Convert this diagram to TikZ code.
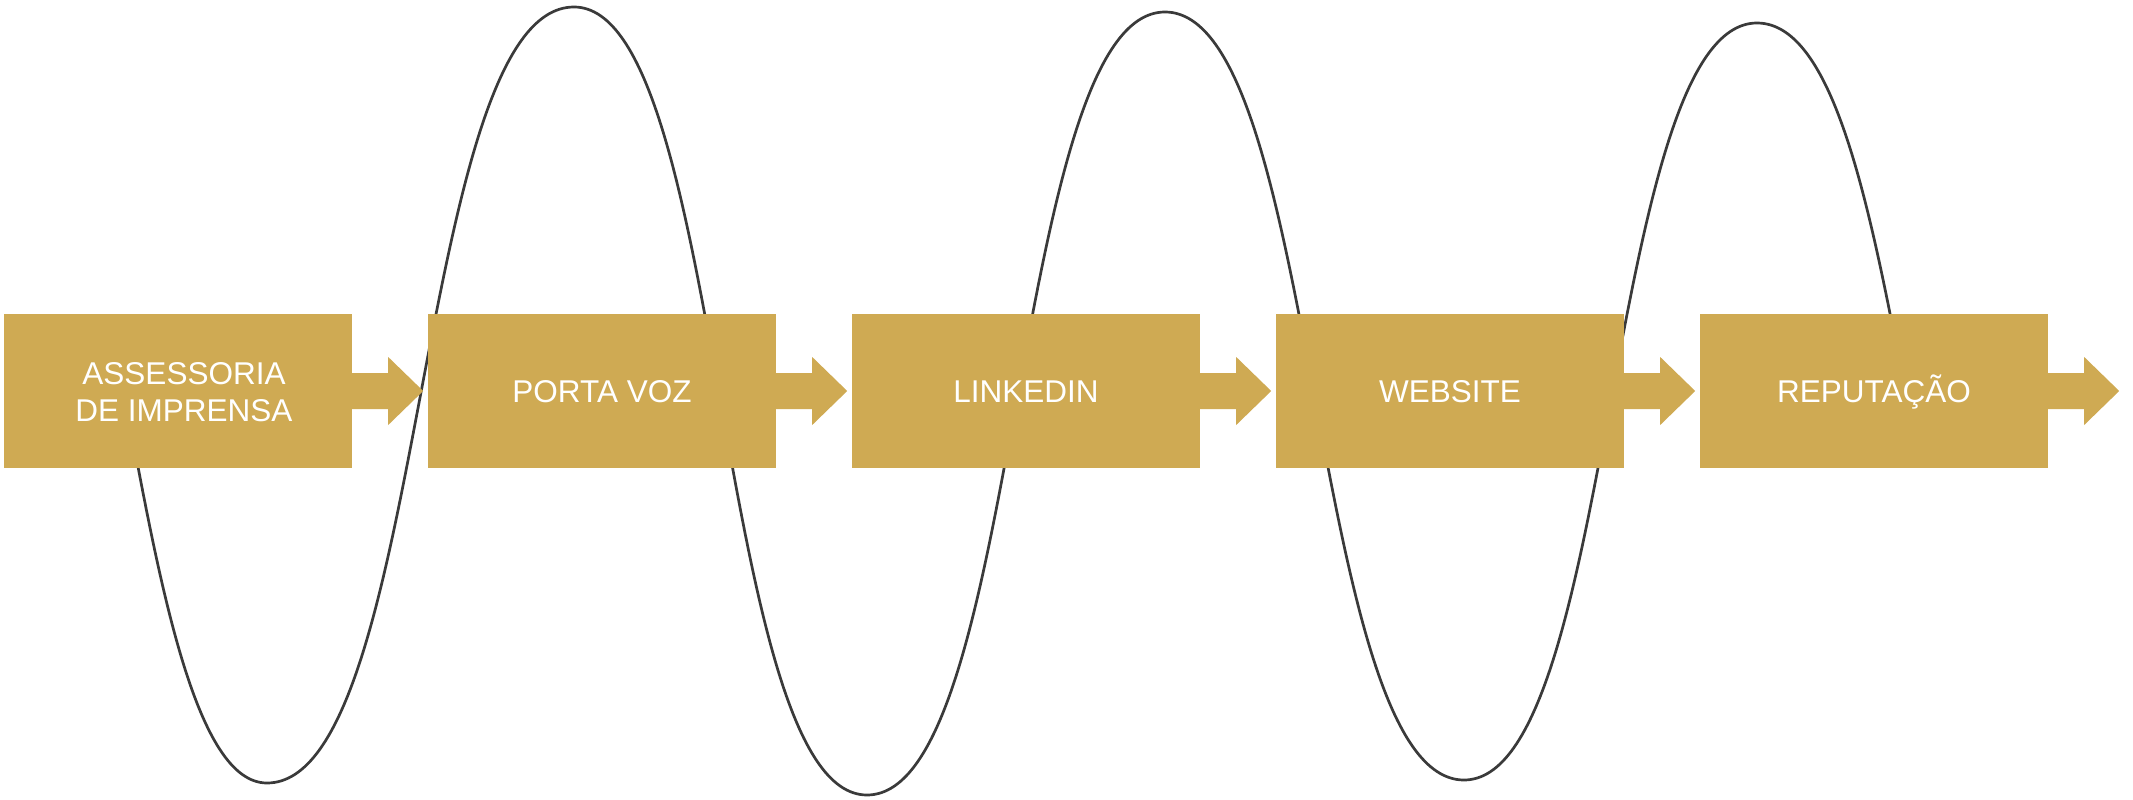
\documentclass[tikz,border=0pt]{standalone}
\usepackage{fontspec}
\setmainfont{Liberation Sans}
\definecolor{gold}{RGB}{207,170,83}
\definecolor{curvegray}{RGB}{58,58,58}
\newcommand{\blockarrow}[1]{%
  \fill[flow] (#1.east) ++(-1,-18) -- ++(37,0) -- ++(0,-16) -- ++(35,34)
    -- ++(-35,34) -- ++(0,-16) -- ++(-37,0) -- cycle;}
\begin{document}
\begin{tikzpicture}[x=1pt,y=-1pt,
  stepbox/.style={rectangle, fill=gold, minimum width=348pt, minimum height=154pt,
    inner sep=0pt, text=white, font=\fontsize{31.5}{37}\selectfont, align=center},
  steplabel/.style={inner sep=0pt, text=white, font=\fontsize{31.5}{37}\selectfont, align=center},
  oneline/.style={text height=23pt, text depth=0pt},
  flow/.style={fill=gold},
  wave/.style={draw=curvegray, line width=2.7pt, line join=round}]
\useasboundingbox (0,0) rectangle (2133,800);
% wavy line running behind the steps
\draw[wave] (124,391.5) .. controls (160,587) and (196,783) .. (267,783)
  .. controls (427,783) and (414,7) .. (574,7)
  .. controls (726,7) and (715,795) .. (867,795)
  .. controls (1022,795) and (1010,12) .. (1165,12)
  .. controls (1320,12) and (1309,780) .. (1464,780)
  .. controls (1616,780) and (1605,23) .. (1757,23)
  .. controls (1835,23) and (1871,212) .. (1907,401.5);
\node[stepbox] (b1) at (178,391) {};
\node[steplabel] (t1) at (184,392) {ASSESSORIA\\DE IMPRENSA};
\node[stepbox, oneline] (b2) at (602,391) {PORTA VOZ};
\node[stepbox, oneline] (b3) at (1026,391) {LINKEDIN};
\node[stepbox, oneline] (b4) at (1450,391) {WEBSITE};
\node[stepbox, oneline] (b5) at (1874,391) {REPUTAÇÃO};
\blockarrow{b1}
\blockarrow{b2}
\blockarrow{b3}
\blockarrow{b4}
\blockarrow{b5}
\end{tikzpicture}
\end{document}
